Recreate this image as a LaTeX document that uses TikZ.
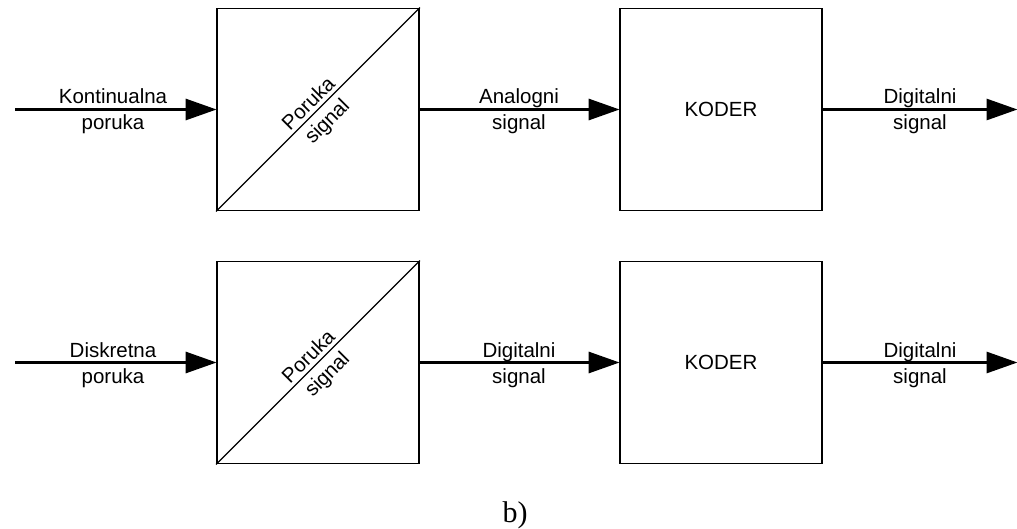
\documentclass[tikz,border=0pt]{standalone}
\usepackage{fontspec}
\setmainfont{Liberation Sans}
\newfontfamily\seriffont{Liberation Serif}
\usetikzlibrary{arrows.meta,calc}
\tikzset{
  blk/.style={draw, line width=1.8pt, minimum width=202pt, minimum height=202pt, inner sep=0pt},
  diag/.style={line width=1.4pt},
  conn/.style={line width=3pt, -{Triangle[length=31pt,width=21pt]}, shorten >=-0.5pt},
  lbl/.style={font=\fontsize{20.5}{24}\selectfont, inner sep=0pt, anchor=base},
  rlbl/.style={font=\fontsize{20.5}{24}\selectfont, rotate=45, inner sep=0pt, anchor=center},
}
\begin{document}
\begin{tikzpicture}[x=1pt,y=-1pt]
\useasboundingbox (0,0) rectangle (1017,529);
% top row
\node[blk] (pt) at (318,109.5) {};
\node[blk] (kt) at (721,109.5) {\fontsize{20.5}{24}\selectfont KODER};
\draw[diag] (pt.south west) -- (pt.north east);
\node[rlbl] (ptp) at ($(pt.center)+(-10,-6.5)$) {Poruka};
\node[rlbl] (pts) at ($(pt.center)+(10,12.5)$) {signal};
\coordinate (int) at (15,109.5);
\coordinate (outt) at (1017,109.5);
\draw[conn] (int) -- (pt.west);
\draw[conn] (pt.east) -- (kt.west);
\draw[conn] (kt.east) -- (outt);
\node[lbl] (l1a) at (113,104) {Kontinualna};
\node[lbl] (l1b) at (113,130) {poruka};
\node[lbl] (l2a) at (519,104) {Analogni};
\node[lbl] (l2b) at (519,130) {signal};
\node[lbl] (l3a) at (920,104) {Digitalni};
\node[lbl] (l3b) at (920,130) {signal};
% bottom row
\node[blk] (pb) at (318,362.5) {};
\node[blk] (kb) at (721,362.5) {\fontsize{20.5}{24}\selectfont KODER};
\draw[diag] (pb.south west) -- (pb.north east);
\node[rlbl] (pbp) at ($(pb.center)+(-10,-6.5)$) {Poruka};
\node[rlbl] (pbs) at ($(pb.center)+(10,12.5)$) {signal};
\coordinate (inb) at (15,362.5);
\coordinate (outb) at (1017,362.5);
\draw[conn] (inb) -- (pb.west);
\draw[conn] (pb.east) -- (kb.west);
\draw[conn] (kb.east) -- (outb);
\node[lbl] (m1a) at (113,357) {Diskretna};
\node[lbl] (m1b) at (113,383) {poruka};
\node[lbl] (m2a) at (519,357) {Digitalni};
\node[lbl] (m2b) at (519,383) {signal};
\node[lbl] (m3a) at (920,357) {Digitalni};
\node[lbl] (m3b) at (920,383) {signal};
% caption
\node[font=\seriffont\fontsize{30}{34}\selectfont, inner sep=0pt, anchor=base] (cap) at (515,522) {b)};
\end{tikzpicture}
\end{document}
